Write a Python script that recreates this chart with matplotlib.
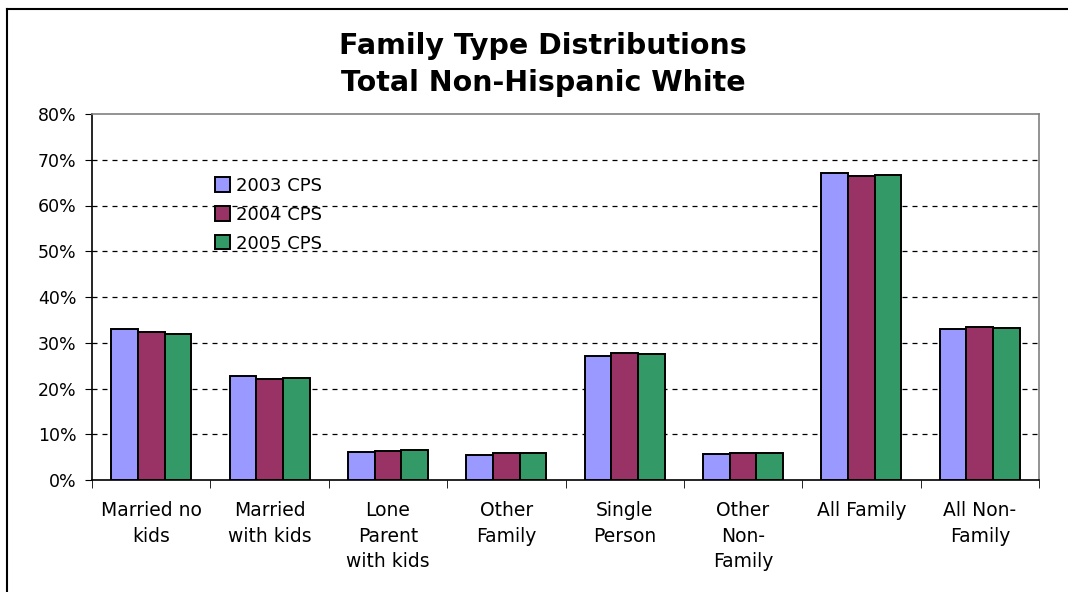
import matplotlib
matplotlib.use("Agg")
import matplotlib.pyplot as plt
from matplotlib.lines import Line2D
import numpy as np

categories = ["Married no\nkids", "Married\nwith kids", "Lone\nParent\nwith kids",
              "Other\nFamily", "Single\nPerson", "Other\nNon-\nFamily",
              "All Family", "All Non-\nFamily"]
series_names = ["2003 CPS", "2004 CPS", "2005 CPS"]
cps_2003 = [32.9, 22.7, 6.1, 5.5, 27.2, 5.7, 67.2, 32.9]
cps_2004 = [32.3, 22.1, 6.3, 5.9, 27.8, 5.8, 66.5, 33.4]
cps_2005 = [32.0, 22.4, 6.6, 5.9, 27.6, 5.8, 66.7, 33.3]
colors = ["#9999FF", "#993366", "#339966"]

fig = plt.figure(figsize=(10.68, 5.92), dpi=100)
ax = fig.add_axes([92 / 1068, 1 - 480 / 592, (1039 - 92) / 1068, (480 - 114) / 592])

x = np.arange(len(categories))
width = 0.225
for i, (vals, name) in enumerate(zip([cps_2003, cps_2004, cps_2005], series_names)):
    ax.bar(x + (i - 1) * width, vals, width, color=colors[i], edgecolor="black",
           linewidth=1.4, label=name, zorder=3)

ax.set_xlim(-0.5, len(categories) - 0.5)
ax.set_ylim(0, 80)
ax.set_yticks(np.arange(0, 81, 10))
ax.set_yticklabels([f"{v}%" for v in range(0, 81, 10)], fontsize=12.5)
for v in range(10, 80, 10):
    ax.axhline(v, color="black", linestyle=(0, (4, 4)), linewidth=0.9, zorder=1)

# category labels sit between the boundary ticks
ax.set_xticks(x)
ax.set_xticklabels(categories, fontsize=13.5, linespacing=1.45)
ax.tick_params(axis="x", length=0, pad=15)
ax.set_xticks(np.arange(-0.5, len(categories), 1), minor=True)
ax.tick_params(axis="x", which="minor", length=6, direction="out", color="black")
ax.tick_params(axis="y", length=5, direction="out", color="black", pad=6)

for side in ["top", "right"]:
    ax.spines[side].set_color("#808080")
    ax.spines[side].set_linewidth(1.2)
for side in ["left", "bottom"]:
    ax.spines[side].set_color("black")
    ax.spines[side].set_linewidth(1.2)

ax.legend(loc="upper left", bbox_to_anchor=(0.122, 0.848), frameon=False,
          fontsize=13, handlelength=0.85, handleheight=0.85, handletextpad=0.35,
          labelspacing=0.6, borderaxespad=0)

fig.text(543 / 1068, 1 - 46 / 592, "Family Type Distributions", ha="center",
         va="center", fontsize=20.5, fontweight="bold")
fig.text(543 / 1068, 1 - 83 / 592, "Total Non-Hispanic White", ha="center",
         va="center", fontsize=20.5, fontweight="bold")

# chart frame
fig.add_artist(Line2D([7 / 1068, 1.0], [1 - 9 / 592, 1 - 9 / 592], color="black", linewidth=1.5))
fig.add_artist(Line2D([7 / 1068, 7 / 1068], [0, 1 - 9 / 592], color="black", linewidth=1.5))

fig.savefig("out.png", dpi=100)
